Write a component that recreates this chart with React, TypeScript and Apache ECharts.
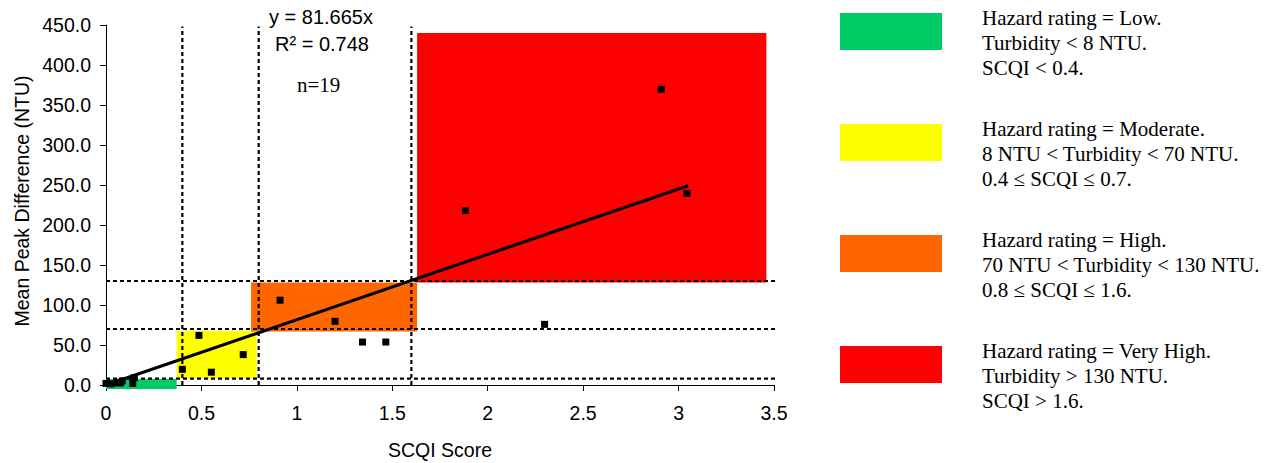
import React, { useEffect, useRef } from "react";
import * as echarts from "echarts";

// ---- data ----
const scqiScore = [0.0, 0.03, 0.063, 0.075, 0.085, 0.14, 0.148, 0.40, 0.487, 0.552, 0.719, 0.912, 1.20, 1.344, 1.466, 2.298, 1.883, 2.909, 3.044];
const meanPeakDiff = [2, 1.5, 3, 2.5, 5, 2, 9, 19.6, 62, 16, 38, 106, 79.6, 53.7, 53.7, 75.8, 218, 369.6, 239.6];

const trendScqi = [0, 3.05];
const trendNtu = [0, 249.1];

const zoneScqiFrom = [0, 0.37, 0.76, 1.63];
const zoneScqiTo = [0.37, 0.79, 1.63, 3.46];
const zoneNtuFrom = [-5, 8, 67, 128];
const zoneNtuTo = [7.5, 67.5, 128, 440];
const zoneColors = ["#00CC66", "#FFFF00", "#FF6600", "#FF0000"];

const scqiThresholds = [0.4, 0.8, 1.6];
const ntuThresholds = [8, 70, 130];

const xMin = 0, xMax = 3.5, xStep = 0.5;
const yMin = 0, yMax = 450, yStep = 50;

const legendLines = [
  ["Hazard rating = Low.", "Turbidity < 8 NTU.", "SCQI < 0.4."],
  ["Hazard rating = Moderate.", "8 NTU < Turbidity < 70 NTU.", "0.4 \u2264 SCQI \u2264 0.7."],
  ["Hazard rating = High.", "70 NTU < Turbidity < 130 NTU.", "0.8 \u2264 SCQI \u2264 1.6."],
  ["Hazard rating = Very High.", "Turbidity > 130 NTU.", "SCQI > 1.6."],
];

const equationText = "y = 81.665x";
const r2Text = "R\u00B2 = 0.748";
const nText = "n=19";
const xTitle = "SCQI Score";
const yTitle = "Mean Peak Difference (NTU)";

// ---- layout ----
const SANS = '"Liberation Sans", Arial, sans-serif';
const SERIF = '"Liberation Serif", "Times New Roman", serif';
const swatchTops = [13, 124, 235, 346];
const lineOffsets = [5, 29.7, 54.5];

export default function App() {
  const ref = useRef<HTMLDivElement>(null);

  useEffect(() => {
    document.body.style.margin = "0";
    const chart = echarts.init(ref.current!, null, { renderer: "svg" });

    const zoneData = zoneScqiFrom.map((x0, i) => [x0, zoneScqiTo[i], zoneNtuFrom[i], zoneNtuTo[i]]);

    const dotted = { color: "#000", width: 2.2, type: [4, 3] as any, opacity: 1 };

    const thresholdSeries: any[] = [];
    scqiThresholds.forEach((t) => {
      thresholdSeries.push({
        type: "line",
        data: [[t, yMin], [t, 448]],
        symbol: "none",
        clip: false,
        silent: true,
        z: 3,
        lineStyle: dotted,
      });
    });
    ntuThresholds.forEach((t) => {
      thresholdSeries.push({
        type: "line",
        data: [[xMin, t], [3.55, t]],
        symbol: "none",
        clip: false,
        silent: true,
        z: 3,
        lineStyle: dotted,
      });
    });

    const graphics: any[] = [];
    legendLines.forEach((lines, i) => {
      graphics.push({
        type: "rect",
        shape: { x: 840, y: swatchTops[i], width: 102, height: 37 },
        style: { fill: zoneColors[i] },
      });
      lines.forEach((ln, j) => {
        graphics.push({
          type: "text",
          x: 982,
          y: swatchTops[i] + lineOffsets[j],
          style: { text: ln, fontFamily: SERIF, fontSize: 21, fill: "#000", align: "left", verticalAlign: "middle" },
        });
      });
    });
    graphics.push(
      { type: "text", x: 269, y: 17, style: { text: equationText, fontFamily: SANS, fontSize: 20, fill: "#000", align: "left", verticalAlign: "middle" } },
      { type: "text", x: 275, y: 44, style: { text: r2Text, fontFamily: SANS, fontSize: 20, fill: "#000", align: "left", verticalAlign: "middle" } },
      { type: "text", x: 297, y: 85, style: { text: nText, fontFamily: SERIF, fontSize: 21, fill: "#000", align: "left", verticalAlign: "middle" } },
      { type: "text", x: 440, y: 450, style: { text: xTitle, fontFamily: SANS, fontSize: 19.5, fill: "#000", align: "center", verticalAlign: "middle" } },
      { type: "text", x: 22, y: 201, rotation: Math.PI / 2, style: { text: yTitle, fontFamily: SANS, fontSize: 19.5, fill: "#000", align: "center", verticalAlign: "middle" } }
    );

    chart.setOption({
      animation: false,
      backgroundColor: "#fff",
      grid: { left: 106, right: 506, top: 25, bottom: 78, containLabel: false },
      xAxis: {
        type: "value",
        min: xMin,
        max: xMax,
        interval: xStep,
        splitLine: { show: false },
        axisLine: { lineStyle: { color: "#000", width: 1 } },
        axisTick: { show: true, inside: false, length: 6, lineStyle: { color: "#000" } },
        axisLabel: { color: "#000", fontFamily: SANS, fontSize: 19.5, margin: 18 },
      },
      yAxis: {
        type: "value",
        min: yMin,
        max: yMax,
        interval: yStep,
        splitLine: { show: false },
        axisLine: { show: true, lineStyle: { color: "#000", width: 1 } },
        axisTick: { show: true, inside: false, length: 6, lineStyle: { color: "#000" } },
        axisLabel: { color: "#000", fontFamily: SANS, fontSize: 19.5, margin: 15, formatter: (v: number) => v.toFixed(1) },
      },
      series: [
        {
          type: "custom",
          clip: false,
          silent: true,
          z: 1,
          data: zoneData,
          renderItem: (params: any, api: any) => {
            const p0 = api.coord([api.value(0), api.value(3)]);
            const p1 = api.coord([api.value(1), api.value(2)]);
            return {
              type: "rect",
              shape: { x: p0[0], y: p0[1], width: p1[0] - p0[0], height: p1[1] - p0[1] },
              style: { fill: zoneColors[params.dataIndex] },
            };
          },
        },
        ...thresholdSeries,
        {
          type: "line",
          data: trendScqi.map((x, i) => [x, trendNtu[i]]),
          symbol: "none",
          clip: false,
          silent: true,
          z: 4,
          lineStyle: { color: "#000", width: 3, opacity: 1 },
        },
        {
          type: "scatter",
          data: scqiScore.map((x, i) => [x, meanPeakDiff[i]]),
          symbol: "rect",
          symbolSize: 7,
          z: 5,
          itemStyle: { color: "#000", opacity: 1 },
        },
      ],
      graphic: graphics,
    });

    return () => chart.dispose();
  }, []);

  return <div ref={ref} style={{ position: "fixed", left: 0, top: 0, width: 1280, height: 463 }} />;
}
